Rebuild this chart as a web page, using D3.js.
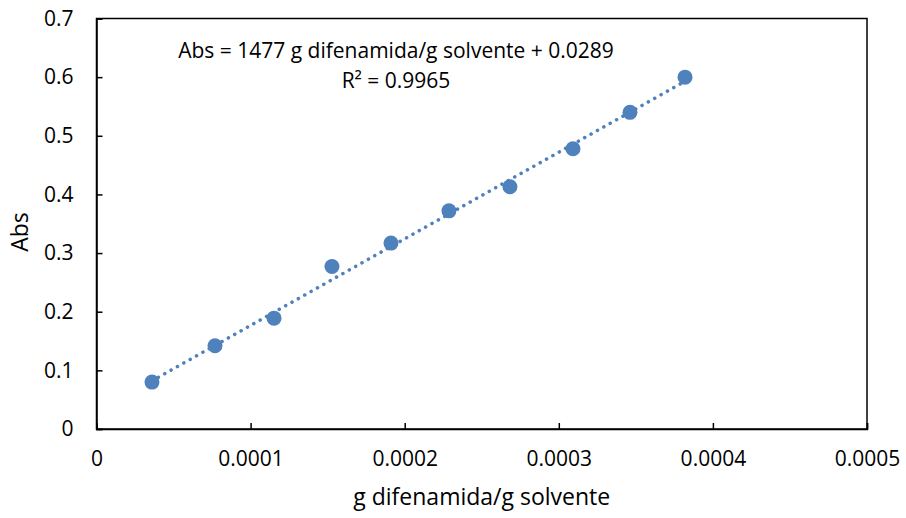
<!DOCTYPE html>
<html>
<head>
<meta charset="utf-8">
<script src="https://cdn.jsdelivr.net/npm/d3@7"></script>
<style>
  body { margin: 0; background: #fff; }
  text { font-family: "Open Sans", sans-serif; fill: #000; }
</style>
</head>
<body>
<div id="chart"></div>
<script>
// measured values
const gRatio = [0.0000360, 0.0000769, 0.0001152, 0.0001528, 0.0001911,
                0.0002287, 0.0002683, 0.0003092, 0.0003462, 0.0003819];
const absValues = [0.080, 0.142, 0.189, 0.277, 0.317, 0.372, 0.413, 0.478, 0.540, 0.600];

const xTicks = [0, 0.0001, 0.0002, 0.0003, 0.0004, 0.0005];
const yTicks = [0, 0.1, 0.2, 0.3, 0.4, 0.5, 0.6, 0.7];

// trendline coefficients from the chart label
const slope = 1477;
const intercept = 0.0289;
const eqLines = ["Abs = 1477 g difenamida/g solvente + 0.0289", "R² = 0.9965"];

const width = 906, height = 518;
const margin = {top: 18.5, right: 39, bottom: 89, left: 96.5};

const svg = d3.select("#chart").append("svg")
    .attr("width", width)
    .attr("height", height);

const x = d3.scaleLinear()
    .domain([0, 0.0005])
    .range([margin.left, width - margin.right]);

const y = d3.scaleLinear()
    .domain([0, 0.7])
    .range([height - margin.bottom, margin.top]);

// plot frame
svg.append("rect")
    .attr("x", x(0))
    .attr("y", y(0.7))
    .attr("width", x(0.0005) - x(0))
    .attr("height", y(0) - y(0.7))
    .attr("fill", "none")
    .attr("stroke", "#000")
    .attr("stroke-width", 1.5);

// axes with inward ticks
const xAxis = svg.append("g")
    .attr("transform", `translate(0, ${y(0)})`)
    .call(d3.axisBottom(x).tickValues(xTicks).tickSize(-6).tickPadding(22)
        .tickFormat(d => d === 0 ? "0" : d3.format(".4f")(d)));

const yAxis = svg.append("g")
    .attr("transform", `translate(${x(0)}, 0)`)
    .call(d3.axisLeft(y).tickValues(yTicks).tickSize(-6).tickPadding(23)
        .tickFormat(d => d === 0 ? "0" : d3.format(".1f")(d)));

[xAxis, yAxis].forEach(a => {
    a.select(".domain").attr("stroke", "#000").attr("stroke-width", 1.5);
    a.selectAll(".tick line").attr("stroke", "#000").attr("stroke-width", 1.5);
    a.selectAll(".tick text").attr("font-size", 21).attr("font-family", "Open Sans, sans-serif");
});
xAxis.selectAll(".tick text").attr("dy", "0.71em");

// axis titles
svg.append("text")
    .attr("x", (x(0) + x(0.0005)) / 2)
    .attr("y", 505)
    .attr("text-anchor", "middle")
    .attr("font-size", 23)
    .text("g difenamida/g solvente");

svg.append("text")
    .attr("transform", `translate(28, 232) rotate(-90)`)
    .attr("text-anchor", "middle")
    .attr("font-size", 23)
    .text("Abs");

// trendline (dotted)
const xMin = d3.min(gRatio), xMax = d3.max(gRatio);
svg.append("line")
    .attr("x1", x(xMin))
    .attr("y1", y(slope * xMin + intercept))
    .attr("x2", x(xMax))
    .attr("y2", y(slope * xMax + intercept))
    .attr("stroke", "#4f81bd")
    .attr("stroke-width", 3.5)
    .attr("stroke-linecap", "round")
    .attr("stroke-dasharray", "0.1 7.2");

// points
svg.append("g").selectAll("circle")
    .data(gRatio)
    .enter().append("circle")
    .attr("cx", d => x(d))
    .attr("cy", (d, i) => y(absValues[i]))
    .attr("r", 7.5)
    .attr("fill", "#4f81bd");

// equation label
svg.append("g").selectAll("text")
    .data(eqLines)
    .enter().append("text")
    .attr("x", 396)
    .attr("y", (d, i) => 58 + i * 30)
    .attr("text-anchor", "middle")
    .attr("font-size", 21)
    .text(d => d);
</script>
</body>
</html>
